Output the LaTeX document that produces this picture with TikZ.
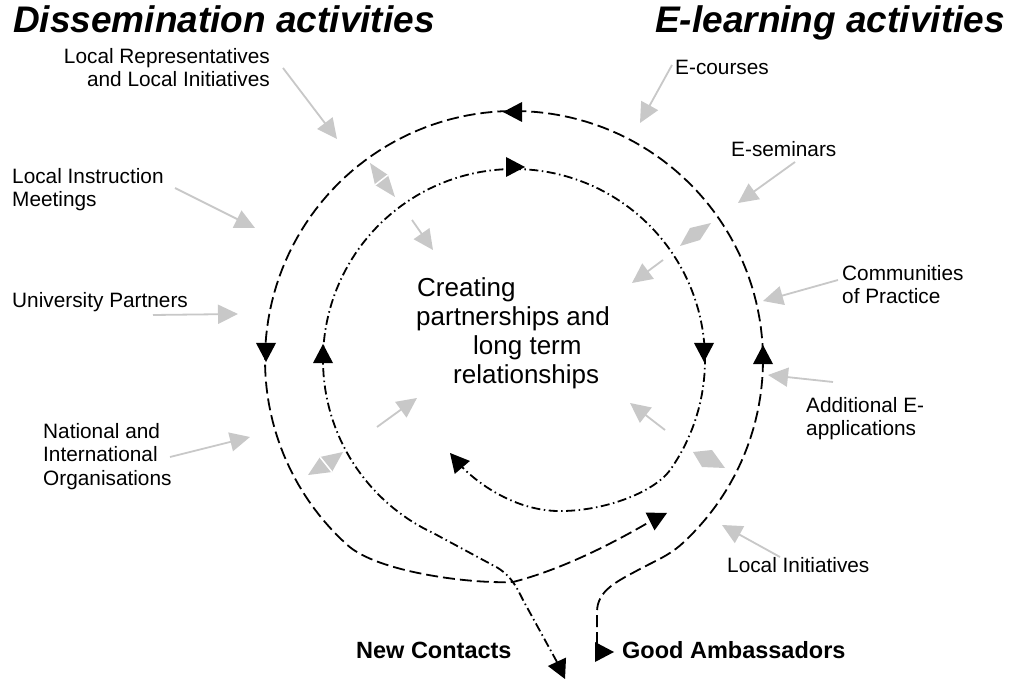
\documentclass[tikz,border=0pt]{standalone}
\usepackage{fontspec}
\setmainfont{Liberation Sans}
\usetikzlibrary{arrows.meta}
\definecolor{lgray}{RGB}{200,200,200}
\newcommand\mytri[4]{\fill[#1, shift={(#2,#3)}, rotate=#4] (0,0) -- (-19,-10) -- (-19,10) -- cycle;}
\begin{document}
\begin{tikzpicture}[x=1pt, y=-1pt,
 outerline/.style={line width=1.8pt, dash pattern=on 12pt off 5pt},
 innerline/.style={line width=1.8pt, dash pattern=on 9pt off 3.5pt on 1.5pt off 3.5pt},
 garrow/.style={draw=lgray, line width=1.8pt, -{Triangle[length=20pt,width=19pt]}},
 gdiam/.style={fill=lgray},
 gapline/.style={draw=white, line width=1.5pt},
 lab/.style={inner sep=0pt, font=\fontsize{20.8}{23.5}\selectfont},
 blab/.style={inner sep=0pt, font=\fontsize{23.5}{27}\selectfont\bfseries},
 ctr/.style={inner sep=0pt, font=\fontsize{26}{29}\selectfont},
 ttl/.style={inner sep=0pt, font=\fontsize{37}{42}\selectfont\bfseries\itshape},
 btip/.style={fill=black}]
\useasboundingbox[fill=white] (0,0) rectangle (1013,679);

% titles
\node[ttl, anchor=base west] (t1) at (13,33) {Dissemination activities};
\node[ttl, anchor=base east] (t2) at (1005,33) {E-learning activities};

% labels
\node[lab, align=right, anchor=north east] (lr) at (270,48) {Local Representatives\\and Local Initiatives};
\node[lab, align=left, anchor=north west] (lim) at (12,168) {Local Instruction\\Meetings};
\node[lab, anchor=base west] (up) at (12,308) {University Partners};
\node[lab, align=left, anchor=north west] (nio) at (43,423) {National and\\International\\Organisations};
\node[lab, anchor=base west] (ec) at (675,75) {E-courses};
\node[lab, anchor=base west] (es) at (731,157) {E-seminars};
\node[lab, align=left, anchor=north west] (cop) at (842,265) {Communities\\of Practice};
\node[lab, align=left, anchor=north west] (ae) at (806,397) {Additional E-\\applications};
\node[lab, anchor=base west] (li) at (727,572) {Local Initiatives};
\node[blab, anchor=base west] (nc) at (356,658) {New Contacts};
\node[blab, anchor=base west] (ga) at (622,658) {Good Ambassadors};

% centre text
\node[ctr, anchor=base west] (c1) at (417,297) {Creating};
\node[ctr, anchor=base west] (c2) at (416,326) {partnerships and};
\node[ctr, anchor=base west] (c3) at (473,355) {long term};
\node[ctr, anchor=base west] (c4) at (453,384) {relationships};

% outer dashed loop
\draw[outerline] (597,644) -- (597,612) .. controls (597,590) and (618,581) .. (640,569)
  .. controls (655,561) and (668,556) .. (680.6,545)
  -- plot[domain=48:-228, samples=140] ({514+249*cos(\x)},{360+249*sin(\x)})
  .. controls (377,572) and (470,584) .. (513,582)
  .. controls (560,570) and (610,545) .. (651,521);
\mytri{btip}{503}{112}{180}
\mytri{btip}{266}{362}{-90}
\mytri{btip}{763}{345}{90}
\mytri{btip}{667}{513}{26.6}
\mytri{btip}{614}{652}{0}

% inner dash-dot loop
\draw[innerline] (557,662) -- (523,600) .. controls (517,588) and (512,577) .. (498,568)
  -- (433.3,533.1)
  -- plot[domain=115:395, samples=140] ({514+191*cos(\x)},{360+191*sin(\x)})
  .. controls (653,494) and (600,512) .. (557,511)
  .. controls (520,510) and (485,490) .. (462,467);
\mytri{btip}{525}{167}{0}
\mytri{btip}{323}{344}{90}
\mytri{btip}{704}{362}{-90}
\mytri{btip}{450}{453}{130.5}
\mytri{btip}{565}{679}{-65}

% grey arrows from labels
\coordinate (lr-s) at (283,68);   \coordinate (lr-e) at (337,139);
\coordinate (lim-s) at (175,188); \coordinate (lim-e) at (255,228);
\coordinate (up-s) at (153,315);  \coordinate (up-e) at (238,314);
\coordinate (nio-s) at (170,457); \coordinate (nio-e) at (250,437);
\coordinate (ec-s) at (672,65);   \coordinate (ec-e) at (640,123);
\coordinate (es-s) at (795,162);  \coordinate (es-e) at (738,203);
\coordinate (cop-s) at (838,280); \coordinate (cop-e) at (763,301);
\coordinate (ae-s) at (833,382);  \coordinate (ae-e) at (768,375);
\coordinate (li-s) at (780,557);  \coordinate (li-e) at (722,525);
\draw[garrow] (lr-s) -- (lr-e);
\draw[garrow] (lim-s) -- (lim-e);
\draw[garrow] (up-s) -- (up-e);
\draw[garrow] (nio-s) -- (nio-e);
\draw[garrow] (ec-s) -- (ec-e);
\draw[garrow] (es-s) -- (es-e);
\draw[garrow] (cop-s) -- (cop-e);
\draw[garrow] (ae-s) -- (ae-e);
\draw[garrow] (li-s) -- (li-e);

% grey arrows towards the centre
\coordinate (a1-s) at (412,220); \coordinate (a1-e) at (433,250);
\coordinate (a2-s) at (663,260); \coordinate (a2-e) at (632,283);
\coordinate (a3-s) at (377,427); \coordinate (a3-e) at (417,398);
\coordinate (a4-s) at (665,430); \coordinate (a4-e) at (630,403);
\draw[garrow] (a1-s) -- (a1-e);
\draw[garrow] (a2-s) -- (a2-e);
\draw[garrow] (a3-s) -- (a3-e);
\draw[garrow] (a4-s) -- (a4-e);

% grey double heads between the loops
\fill[gdiam] (370,163) -- (388,175) -- (395,197) -- (375,185) -- cycle;
\draw[gapline] (375,185) -- (388,175);
\fill[gdiam] (680,246) -- (690,228) -- (711,223) -- (700,240) -- cycle;
\fill[gdiam] (308,475) -- (320,457) -- (343,452) -- (332,472) -- cycle;
\draw[gapline] (320,457) -- (332,472);
\fill[gdiam] (693,452) -- (712,450) -- (725,468) -- (702,467) -- cycle;
\end{tikzpicture}
\end{document}
